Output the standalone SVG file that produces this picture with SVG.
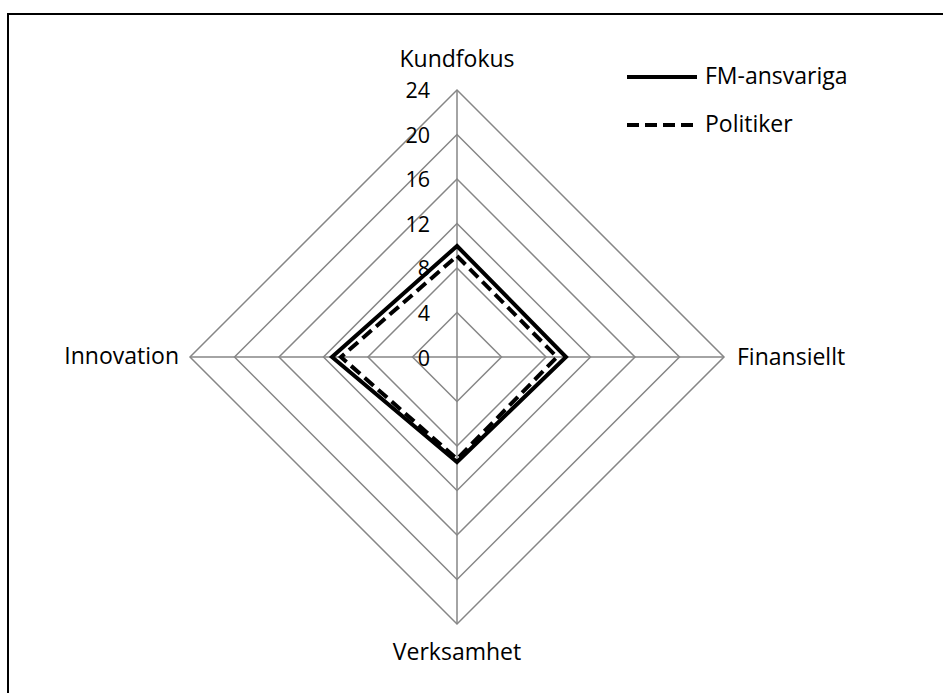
<svg xmlns="http://www.w3.org/2000/svg" width="943" height="693" viewBox="0 0 943 693">
  <style>
    .grid { fill: none; stroke: #868686; stroke-width: 1.5; }
    .lbl { font-family: "Open Sans", "Liberation Sans", sans-serif; font-size: 23px; fill: #000; }
    .tick { font-family: "Open Sans", "Liberation Sans", sans-serif; font-size: 21.5px; fill: #000; text-anchor: end; }
    .solid { fill: none; stroke: #000; stroke-width: 4; stroke-linejoin: miter; }
    .dashed { fill: none; stroke: #000; stroke-width: 4; stroke-dasharray: 12 6; stroke-linejoin: miter; }
  </style>
  <rect width="943" height="693" fill="#fff"/>
  <!-- chart frame (top and left edges only) -->
  <path d="M8,693 V14 H943" fill="none" stroke="#000" stroke-width="2"/>

  <!-- radar grid: rings every 4 units, 11.125 px per unit, centre (457,357) -->
  <g id="grid">
    <polygon class="grid" points="457,312.5 501.5,357 457,401.5 412.5,357"/>
    <polygon class="grid" points="457,268 546,357 457,446 368,357"/>
    <polygon class="grid" points="457,223.5 590.5,357 457,490.5 323.5,357"/>
    <polygon class="grid" points="457,179 635,357 457,535 279,357"/>
    <polygon class="grid" points="457,134.5 679.5,357 457,579.5 234.5,357"/>
    <polygon class="grid" points="457,90 724,357 457,624 190,357"/>
    <path class="grid" d="M457,90 V624 M190,357 H724"/>
  </g>

  <!-- axis scale -->
  <g id="scale">
    <text class="tick" x="430" y="98">24</text>
    <text class="tick" x="430" y="143">20</text>
    <text class="tick" x="430" y="187">16</text>
    <text class="tick" x="430" y="232">12</text>
    <text class="tick" x="430" y="276">8</text>
    <text class="tick" x="430" y="321">4</text>
    <text class="tick" x="430" y="366">0</text>
  </g>

  <!-- axis labels -->
  <g id="axis-kundfokus"><text class="lbl" x="457" y="67" text-anchor="middle">Kundfokus</text></g>
  <g id="axis-finansiellt"><text class="lbl" x="737" y="365">Finansiellt</text></g>
  <g id="axis-verksamhet"><text class="lbl" x="457" y="660" text-anchor="middle">Verksamhet</text></g>
  <g id="axis-innovation"><text class="lbl" x="179" y="364" text-anchor="end">Innovation</text></g>

  <!-- data series -->
  <g id="series">
    <polygon id="series-politiker" class="dashed" points="457,256 557,357 457,459 341,357"/>
    <polygon id="series-fm" class="solid" points="457,246 566,357 457,462 332,357"/>
  </g>

  <!-- legend -->
  <g id="legend">
    <line class="solid" x1="627" y1="77" x2="697" y2="77"/>
    <text class="lbl" x="705" y="84">FM-ansvariga</text>
    <line class="dashed" x1="627" y1="125" x2="697" y2="125"/>
    <text class="lbl" x="705" y="132">Politiker</text>
  </g>
</svg>
